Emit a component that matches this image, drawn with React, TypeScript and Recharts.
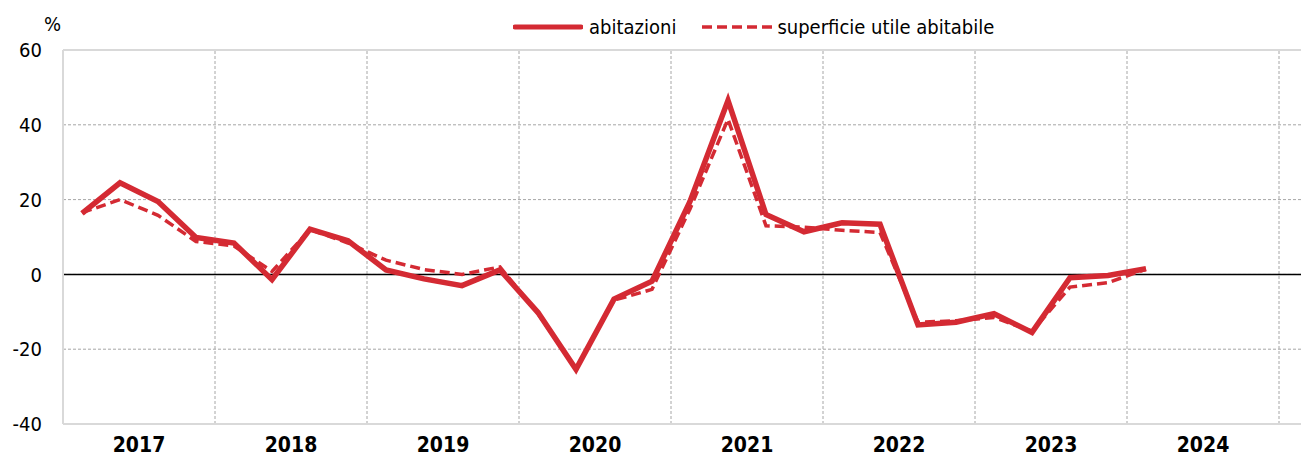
import { LineChart, Line, XAxis, YAxis, CartesianGrid, ReferenceLine } from "recharts";

const quarters = [
  "2017T1", "2017T2", "2017T3", "2017T4",
  "2018T1", "2018T2", "2018T3", "2018T4",
  "2019T1", "2019T2", "2019T3", "2019T4",
  "2020T1", "2020T2", "2020T3", "2020T4",
  "2021T1", "2021T2", "2021T3", "2021T4",
  "2022T1", "2022T2", "2022T3", "2022T4",
  "2023T1", "2023T2", "2023T3", "2023T4",
  "2024T1",
];

const abitazioni = [
  16.3, 24.5, 19.5, 9.9, 8.4, -1.4, 12.1, 9.0, 1.2, -1.2, -3.0, 1.2, -10.2, -25.4, -6.6,
  -1.8, 19.5, 46.5, 16.0, 11.4, 13.8, 13.4, -13.5, -12.8, -10.5, -15.5, -0.9, -0.3, 1.5,
];

const superficie = [
  16.5, 20.0, 15.8, 8.8, 7.6, 0.8, 12.0, 8.4, 3.8, 1.3, 0.0, 2.0, -10.5, -25.3, -6.9,
  -4.0, 17.5, 41.5, 13.0, 12.6, 11.8, 11.2, -12.8, -12.4, -11.5, -15.2, -3.4, -2.2, 1.4,
];

const years = [2017, 2018, 2019, 2020, 2021, 2022, 2023, 2024];
const yTicks = [-40, -20, 0, 20, 40, 60];

const RED = "#d42a33";
const FONT = "'Liberation Sans Narrow', 'Arial Narrow', 'DejaVu Sans Condensed', sans-serif";

// quarter index as x, year label in the middle of each year
const data = quarters.map((q, i) => ({ q, t: i, abitazioni: abitazioni[i], superficie: superficie[i] }));
const yearMid = years.map((_, k) => k * 4 + 1.5);
const yearStart = years.map((_, k) => k * 4 + 3.5);

const W = 1301;
const H = 453;

export default function App() {
  return (
    <div style={{ position: "relative", width: W, height: H, fontFamily: FONT }}>
      <div style={{ position: "absolute", left: 36, top: 4, fontSize: 20, color: "#000" }}>%</div>
      <div
        style={{
          position: "absolute",
          left: 505,
          top: 7,
          height: 24,
          display: "flex",
          alignItems: "center",
          fontSize: 20,
          color: "#000",
          zIndex: 2,
        }}
      >
        <svg width={70} height={10}>
          <line x1={2} y1={5} x2={68} y2={5} stroke={RED} strokeWidth={5} strokeLinecap="round" />
        </svg>
        <span style={{ marginLeft: 6 }}>abitazioni</span>
        <svg width={70} height={10} style={{ marginLeft: 26 }}>
          <line x1={0} y1={5} x2={70} y2={5} stroke={RED} strokeWidth={3.5} strokeDasharray="10 5" />
        </svg>
        <span style={{ marginLeft: 5 }}>superficie utile abitabile</span>
      </div>
      <LineChart width={W} height={H} data={data} margin={{ top: 42, right: 0, left: 0, bottom: 0 }}>
        <CartesianGrid vertical={false} stroke="#a6a6a6" strokeDasharray="3 2" />
        {yearStart.map((x) => (
          <ReferenceLine key={x} x={x} stroke="#a6a6a6" strokeDasharray="3 2" />
        ))}
        <XAxis
          dataKey="t"
          type="number"
          domain={[-0.5, -0.5 + 1246 / 38]}
          ticks={yearMid}
          tickFormatter={(v) => String(years[Math.round((Number(v) - 1.5) / 4)])}
          allowDataOverflow
          height={37}
          tickLine={false}
          tickMargin={7}
          axisLine={{ stroke: "#d9d9d9", strokeWidth: 2 }}
          tick={{ fill: "#000", fontSize: 21, fontWeight: "bold", fontFamily: FONT }}
        />
        <YAxis
          type="number"
          domain={[-40, 60]}
          ticks={yTicks}
          width={55}
          tickLine={false}
          tickMargin={15}
          axisLine={{ stroke: "#d9d9d9", strokeWidth: 2 }}
          tick={{ fill: "#000", fontSize: 20, fontFamily: FONT }}
        />
        <ReferenceLine y={60} stroke="#d9d9d9" strokeWidth={2} />
        <ReferenceLine y={0} stroke="#000" strokeWidth={1.5} />
        <Line
          dataKey="abitazioni"
          stroke={RED}
          strokeWidth={5.5}
          dot={false}
          isAnimationActive={false}
        />
        <Line
          dataKey="superficie"
          stroke={RED}
          strokeWidth={3.5}
          strokeDasharray="10 5"
          dot={false}
          isAnimationActive={false}
        />
      </LineChart>
    </div>
  );
}
